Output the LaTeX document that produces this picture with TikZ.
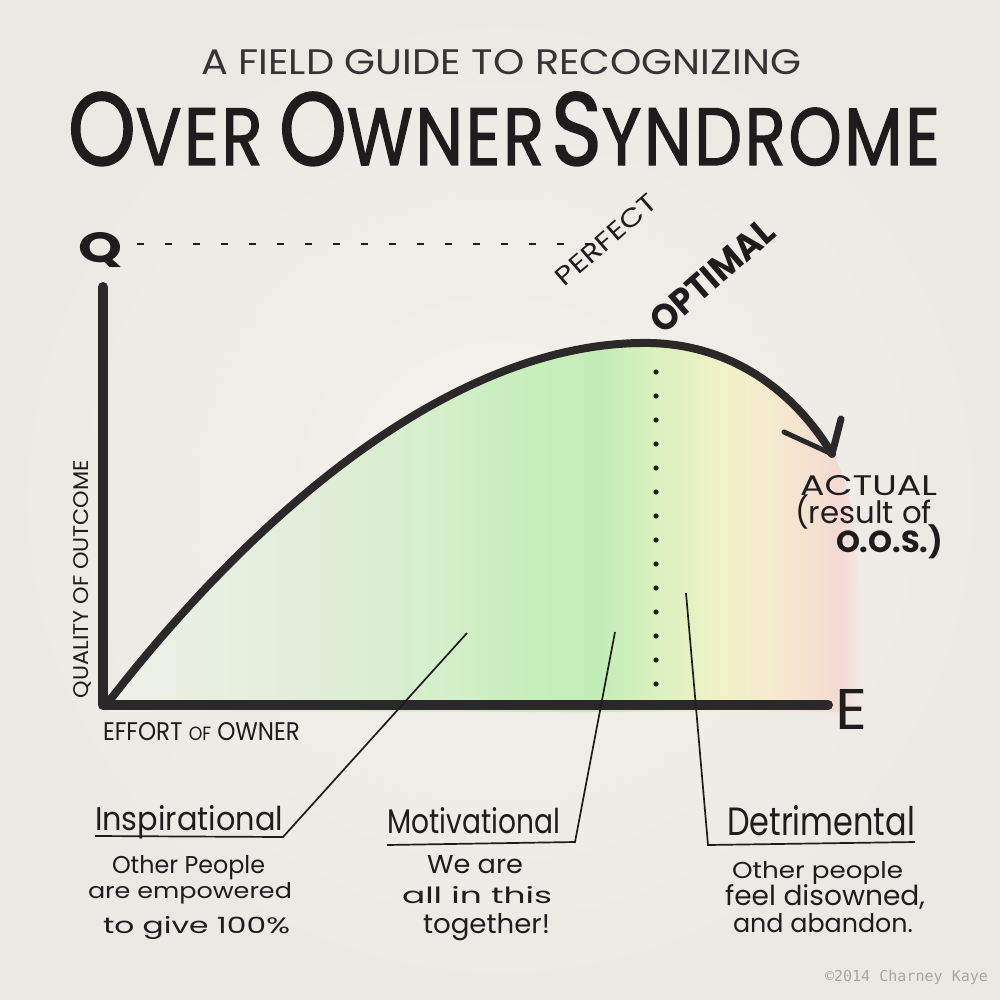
\documentclass[tikz,border=0pt]{standalone}
\usepackage{fontspec}
\usepackage{graphicx}
\setmainfont{Poppins}
\newfontfamily\copyfont{DejaVu Sans Mono}
\newfontfamily\markerfont[FakeBold=1.8,LetterSpace=4]{Poppins}
\newcommand{\fitwh}[3]{\resizebox{#1pt}{#2pt}{#3}}
\newcommand{\fitw}[2]{\resizebox{#1pt}{!}{#2}}
\definecolor{bg}{HTML}{F2EFEB}
\definecolor{bgin}{HTML}{F5F3EF}
\definecolor{bgout}{HTML}{ECE8E3}
\definecolor{ink}{HTML}{1E1C1D}
\definecolor{pencil}{HTML}{2A2829}
\definecolor{g0}{HTML}{EFF1E8}
\definecolor{g1}{HTML}{E2EDD9}
\definecolor{g2}{HTML}{D3EFC9}
\definecolor{g3}{HTML}{C5EEBA}
\definecolor{g4}{HTML}{C3EDB6}
\definecolor{g5}{HTML}{DCF1C0}
\definecolor{g6}{HTML}{F3F1C8}
\definecolor{g7}{HTML}{F5E6CF}
\definecolor{g8}{HTML}{F3D9D2}
\definecolor{cpy}{HTML}{A9A7A4}
\begin{document}
\begin{tikzpicture}[x=1pt,y=-1pt,
  txt/.style={inner sep=0pt, outer sep=0pt, text=ink, anchor=base west},
  ctxt/.style={inner sep=0pt, outer sep=0pt, text=ink, anchor=center},
  axisline/.style={draw=pencil, line width=10pt, line cap=round, line join=round},
  curveline/.style={draw=pencil, line width=8pt, line cap=round},
  leader/.style={draw=ink, line width=1.7pt, line join=miter},
  guide/.style={draw=ink, line width=1.8pt, dash pattern=on 7pt off 21pt},
  dotmark/.style={fill=ink}]
\useasboundingbox (0,0) rectangle (1000,1000);
\shade[inner color=bgin, outer color=bgout] (0,0) rectangle (1000,1000);

% coloured area under the curve
\begin{scope}
\clip (108,708) .. controls (250,520) and (450,340) .. (650,343)
      .. controls (740,345) and (800,400) .. (832,453)
      .. controls (855,490) and (862,560) .. (864,712) -- (108,712) -- cycle;
\shade[left color=g0, right color=g1] (104,330) rectangle (301,714);
\shade[left color=g1, right color=g2] (300,330) rectangle (451,714);
\shade[left color=g2, right color=g3] (450,330) rectangle (531,714);
\shade[left color=g3, right color=g4] (530,330) rectangle (601,714);
\shade[left color=g4, right color=g5] (600,330) rectangle (661,714);
\shade[left color=g5, right color=g6] (660,330) rectangle (731,714);
\shade[left color=g6, right color=g7] (730,330) rectangle (791,714);
\shade[left color=g7, right color=g8] (790,330) rectangle (841,714);
\shade[left color=g8, right color=bg] (840,330) rectangle (868,714);
\end{scope}

% titles
\node[txt, text=ink!90] (sub) at (201,75) {\fitwh{600}{25}{A FIELD GUIDE TO RECOGNIZING}};
\node[txt] (title) at (68,165) {\fitwh{872}{73}{\markerfont\fontsize{58}{58}\selectfont{\fontsize{74}{74}\selectfont O}VER\hspace{14pt}{\fontsize{74}{74}\selectfont O}WNER\hspace{6pt}{\fontsize{74}{74}\selectfont S}YNDROME}};

% axes
\coordinate (ytop) at (103,287);
\coordinate (org) at (103,705);
\coordinate (xend) at (828,705);
\draw[axisline] (ytop) -- (org) -- (xend);
\node[txt] (Q) at (78,262) {\fitwh{44}{30}{\bfseries Q}};
\node[txt] (E) at (835,729) {\fitwh{32}{40}{E}};
\node[txt, rotate=90] (ylab) at (88,698) {\fitwh{238}{15}{QUALITY OF OUTCOME}};
\node[txt] (xlab) at (103,740) {\fitwh{197}{18}{\fontsize{20}{20}\selectfont EFFORT {\fontsize{15}{15}\selectfont OF} OWNER}};

% perfect line
\coordinate (qdash) at (137,244);
\coordinate (pdash) at (592,244);
\draw[guide] (qdash) -- (pdash);
\node[ctxt, rotate=41] (perfect) at (606,240) {\fitwh{125}{18}{PERFECT}};
\node[ctxt, rotate=41] (optimal) at (712,276) {\fitwh{152}{26}{\bfseries OPTIMAL}};

% curve
\coordinate (c0) at (110,700);
\coordinate (top) at (650,343);
\coordinate (tip) at (832,454);
\coordinate (barbL) at (784,432);
\coordinate (barbR) at (841,419);
\draw[curveline] (c0) .. controls (250,520) and (450,340) .. (top)
      .. controls (740,345) and (800,400) .. (tip);
\draw[draw=pencil, line width=5pt, line cap=round] (barbL) -- (tip);
\draw[draw=pencil, line width=7pt, line cap=round] (tip) -- (barbR);

% optimal dotted line
\foreach \k in {0,...,13} \fill[dotmark] (656,372+24*\k) circle[radius=2.6pt];

% actual label
\node[txt] (actual) at (800,495) {\fitwh{137}{20}{ACTUAL}};
\node[txt] (result) at (795,523) {\fitw{137}{(result of}};
\node[txt] (oos) at (836,552) {\fitw{107}{\bfseries O.O.S.)}};

% leaders
\coordinate (ia) at (467,633);
\coordinate (ib) at (283,837);
\coordinate (ic) at (95,836);
\draw[leader] (ia) -- (ib) -- (ic);
\coordinate (ma) at (615,632);
\coordinate (mb) at (575,842);
\coordinate (mc) at (387,845);
\draw[leader] (ma) -- (mb) -- (mc);
\coordinate (da) at (686,593);
\coordinate (db) at (708,845);
\coordinate (dc) at (915,842);
\draw[leader] (da) -- (db) -- (dc);

% Inspirational
\node[txt] (insp) at (95,830) {\fitwh{188}{25}{Inspirational}};
\node[txt] (i1) at (112,873) {\fitwh{153}{18}{Other People}};
\node[txt] (i2) at (88,898) {\fitwh{204}{16}{are empowered}};
\node[txt] (i3) at (103,933) {\fitwh{187}{17}{to give 100\%}};

% Motivational
\node[txt] (moti) at (387,833) {\fitwh{173}{26}{Motivational}};
\node[txt] (m1) at (427,873) {\fitwh{96}{18}{We are}};
\node[txt] (m2) at (402,903) {\fitwh{150}{17}{all in this}};
\node[txt] (m3) at (423,933) {\fitwh{127}{20}{together!}};

% Detrimental
\node[txt] (detr) at (727,835) {\fitwh{188}{30}{Detrimental}};
\node[txt] (d1) at (732,878) {\fitwh{171}{17}{Other people}};
\node[txt] (d2) at (725,905) {\fitwh{200}{21}{feel disowned,}};
\node[txt] (d3) at (733,932) {\fitwh{180}{19}{and abandon.}};

% copyright
\node[txt, text=cpy] (copy) at (825,981) {\fitw{163}{\copyfont ©2014 Charney Kaye}};
\end{tikzpicture}
\end{document}
